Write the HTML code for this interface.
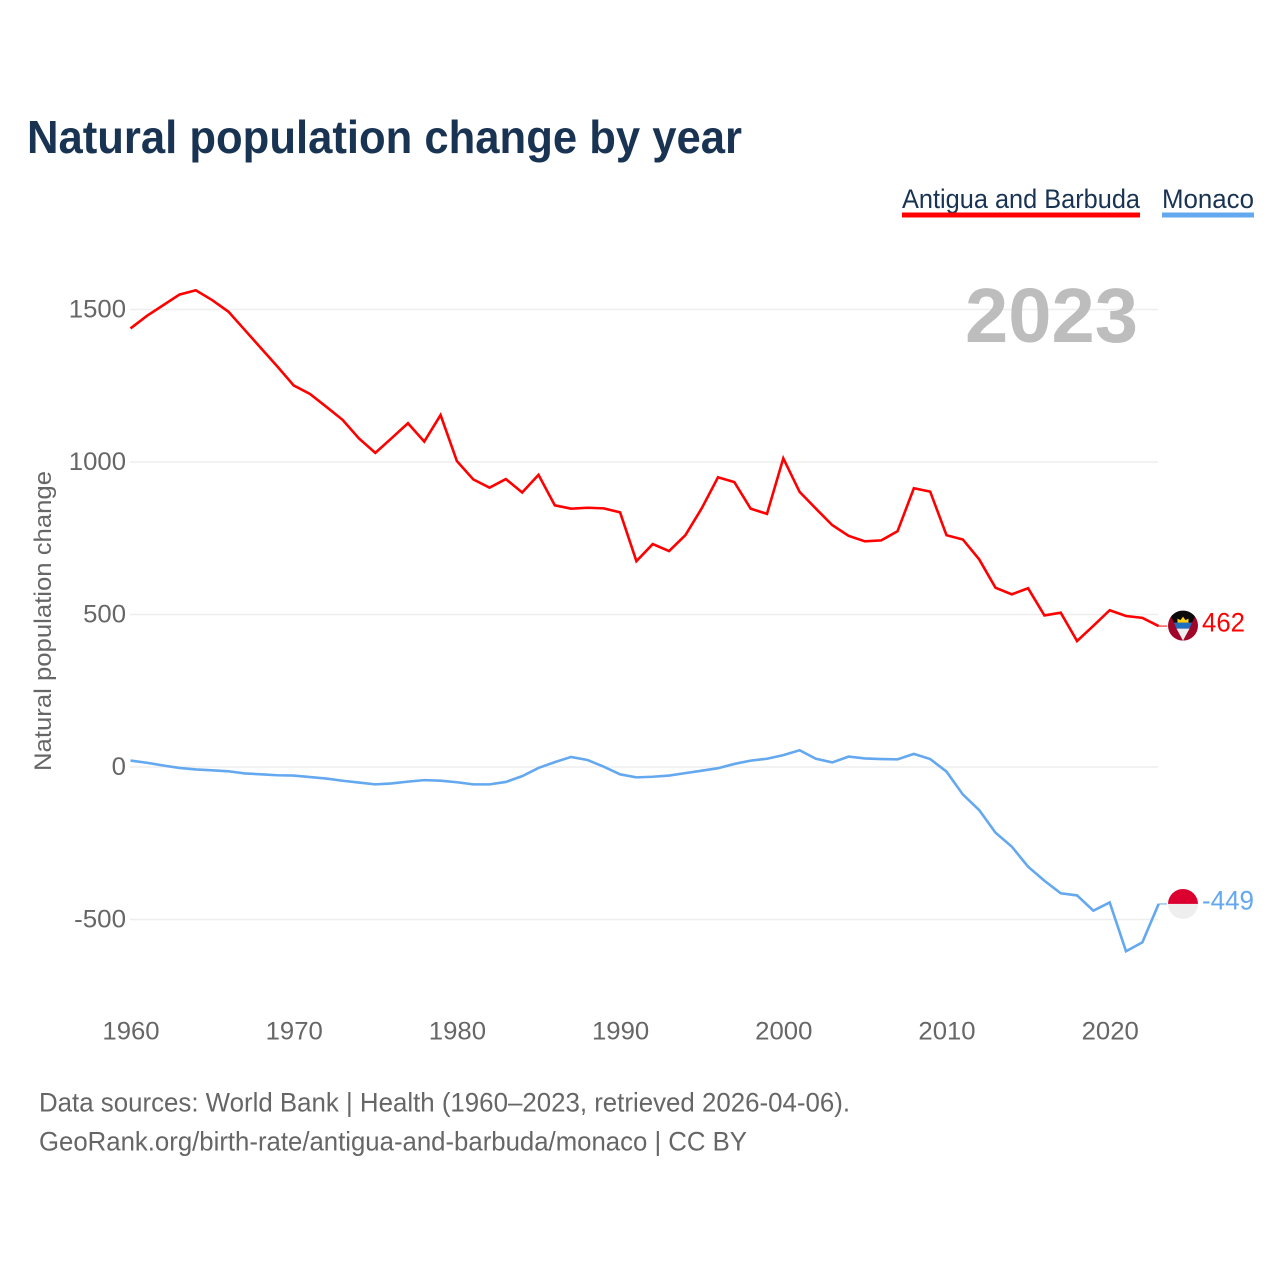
<!DOCTYPE html>
<html lang="en">
<head>
<meta charset="utf-8">
<title>Natural population change by year</title>
<style>
html,body{margin:0;padding:0;background:#fff;}
svg{display:block;}
text{font-family:"Liberation Sans",sans-serif;}
</style>
</head>
<body>
<svg id="chart" xmlns="http://www.w3.org/2000/svg" width="1280" height="1280" viewBox="0 0 1280 1280">
  <defs>
    <clipPath id="clip-ag"><circle id="clip-ag-c" cx="1183" cy="626" r="15"/></clipPath>
    <clipPath id="clip-mc"><circle id="clip-mc-c" cx="1183" cy="903" r="15"/></clipPath>
  </defs>
  <rect x="0" y="0" width="1280" height="1280" fill="#ffffff"/>
  <text x="27" y="153" font-size="46" font-weight="700" fill="#193353" textLength="715" lengthAdjust="spacingAndGlyphs">Natural population change by year</text>

  <g>
    <text x="902" y="208" font-size="26.500" fill="#193353" textLength="238" lengthAdjust="spacingAndGlyphs">Antigua and Barbuda</text>
    <rect x="902" y="212.500" width="238" height="5" fill="#ff0000"/>
  </g>
  <g>
    <text x="1162" y="208" font-size="26.500" fill="#193353" textLength="92" lengthAdjust="spacingAndGlyphs">Monaco</text>
    <rect x="1162" y="212.500" width="92" height="5" fill="#64a8ef"/>
  </g>

  <text transform="translate(51,621) rotate(-90)" text-anchor="middle" font-size="24" fill="#666666" textLength="300" lengthAdjust="spacingAndGlyphs">Natural population change</text>

  <g id="grid"></g>
  <g id="yticks"></g>
  <g id="xticks"></g>

  <text x="965" y="342" font-size="77" font-weight="700" fill="#bdbdbd" textLength="173" lengthAdjust="spacingAndGlyphs">2023</text>

  <g id="series"></g>

  <g id="flag-ag" clip-path="url(#clip-ag)"></g>
  <g id="flag-mc" clip-path="url(#clip-mc)"></g>

  <text x="39" y="1111.500" font-size="26.500" fill="#666666" textLength="811" lengthAdjust="spacingAndGlyphs">Data sources: World Bank | Health (1960–2023, retrieved 2026-04-06).</text>
  <text x="39" y="1150.500" font-size="26.500" fill="#666666" textLength="708" lengthAdjust="spacingAndGlyphs">GeoRank.org/birth-rate/antigua-and-barbuda/monaco | CC BY</text>
</svg>
<script>
const firstYear = 1960;
const yTickValues = [1500, 1000, 500, 0, -500];
const xTickYears = [1960, 1970, 1980, 1990, 2000, 2010, 2020];
const antiguaValues = [1438,1479,1514,1549,1563,1531,1493,1433,1373,1313,1251,1223,1181,1138,1077,1030,1078,1127,1067,1154,1003,943,916,944,900,958,858,847,850,848,835,675,731,708,760,848,950,934,847,830,1012,902,847,793,758,740,743,773,914,903,760,746,681,588,566,586,497,506,413,463,514,495,489,462];
const monacoValues = [21,14,5,-3,-8,-11,-14,-21,-24,-27,-28,-33,-38,-45,-51,-57,-54,-48,-43,-45,-50,-57,-57,-49,-30,-3,16,33,23,1,-24,-34,-32,-28,-20,-12,-4,10,21,27,39,55,27,15,34,28,26,25,43,26,-15,-90,-141,-215,-261,-327,-373,-414,-421,-471,-444,-604,-575,-449];

const NS = 'http://www.w3.org/2000/svg';
const xScale = function (year) { return 130.500 + (year - firstYear) * 16.32; };
const yScale = function (value) { return 767 - value * 0.305; };
const gridLeft = 130;
const gridRight = 1158;
const endStubX = 1167;
const digitWidth = 14.3;
const hyphenWidth = 9;

function make(tag, attrs, parent) {
  const el = document.createElementNS(NS, tag);
  Object.keys(attrs).forEach(function (k) { el.setAttribute(k, attrs[k]); });
  parent.appendChild(el);
  return el;
}

function labelWidth(s) {
  return s.replace('-', '').length * digitWidth + (s.charAt(0) === '-' ? hyphenWidth : 0);
}

const gridGroup = document.getElementById('grid');
const yTickGroup = document.getElementById('yticks');
const xTickGroup = document.getElementById('xticks');
const seriesGroup = document.getElementById('series');
const svgRoot = document.getElementById('chart');

yTickValues.forEach(function (v) {
  const line = make('line', {x1: gridLeft, x2: gridRight, y1: yScale(v), y2: yScale(v), stroke: '#eeeeee', 'stroke-width': 1.5}, gridGroup);
  
  
  const s = String(v);
  const t = make('text', {x: 126, y: yScale(v) + 8, 'text-anchor': 'end', 'font-size': 25, fill: '#666666', textLength: labelWidth(s), lengthAdjust: 'spacingAndGlyphs'}, yTickGroup);
  t.textContent = s;
  
  
});

xTickYears.forEach(function (year) {
  const s = String(year);
  const t = make('text', {x: xScale(year) + 0.5, y: 1039.500, 'text-anchor': 'middle', 'font-size': 25, fill: '#666666', textLength: labelWidth(s), lengthAdjust: 'spacingAndGlyphs'}, xTickGroup);
  t.textContent = s;
  
  
});

function drawSeries(values, color, lineName, stubName, labelName) {
  const pts = values.map(function (v, i) { return xScale(firstYear + i).toFixed(2) + ',' + yScale(v).toFixed(2); }).join(' ');
  const line = make('polyline', {points: pts, fill: 'none', stroke: color, 'stroke-width': 2.6, 'stroke-linejoin': 'miter'}, seriesGroup);
  
  
  const lastVal = values[values.length - 1];
  const lastX = xScale(firstYear + values.length - 1);
  const stub = make('line', {x1: lastX, x2: endStubX, y1: yScale(lastVal), y2: yScale(lastVal), stroke: color, 'stroke-width': 1}, seriesGroup);
  
  
  const s = String(lastVal);
  const label = make('text', {x: 1202, y: yScale(lastVal) + 5.5, 'font-size': 26.5, fill: color, textLength: s.length === 3 ? 43 : 52, lengthAdjust: 'spacingAndGlyphs'}, svgRoot);
  label.textContent = s;
  
  
}

drawSeries(antiguaValues, '#ff0000', 'antigua-line', 'antigua-end-stub', 'antigua-end-label');
drawSeries(monacoValues, '#64a8ef', 'monaco-line', 'monaco-end-stub', 'monaco-end-label');

const agY = yScale(antiguaValues[antiguaValues.length - 1]) - 0.5;
const mcY = yScale(monacoValues[monacoValues.length - 1]);
const cx = 1183;
document.getElementById('clip-ag-c').setAttribute('cy', agY);
document.getElementById('clip-mc-c').setAttribute('cy', mcY);

const agGroup = document.getElementById('flag-ag');
make('rect', {x: cx - 15, y: agY - 15, width: 30, height: 30, fill: '#a0062a'}, agGroup);
make('polygon', {points: [cx - 15, agY - 15, cx + 15, agY - 15, cx + 9, agY - 3, cx - 9, agY - 3].join(' '), fill: '#0b0b0b'}, agGroup);
make('polygon', {points: [cx - 9, agY - 3, cx + 9, agY - 3, cx + 6.5, agY + 3, cx - 6.5, agY + 3].join(' '), fill: '#1e6fc0'}, agGroup);
make('polygon', {points: [cx - 6.5, agY + 3, cx + 6.5, agY + 3, cx, agY + 15].join(' '), fill: '#eeeeee'}, agGroup);
make('polygon', {points: [cx - 5.5, agY - 3, cx - 5.5, agY - 7, cx - 2.500, agY - 5.5, cx, agY - 9, cx + 2.500, agY - 5.5, cx + 5.5, agY - 7, cx + 5.5, agY - 3].join(' '), fill: '#fcd116'}, agGroup);

const mcGroup = document.getElementById('flag-mc');
make('rect', {x: cx - 15, y: mcY - 15, width: 30, height: 15, fill: '#dc0030'}, mcGroup);
make('rect', {x: cx - 15, y: mcY, width: 30, height: 15, fill: '#eeeeee'}, mcGroup);
</script>
</body>
</html>
